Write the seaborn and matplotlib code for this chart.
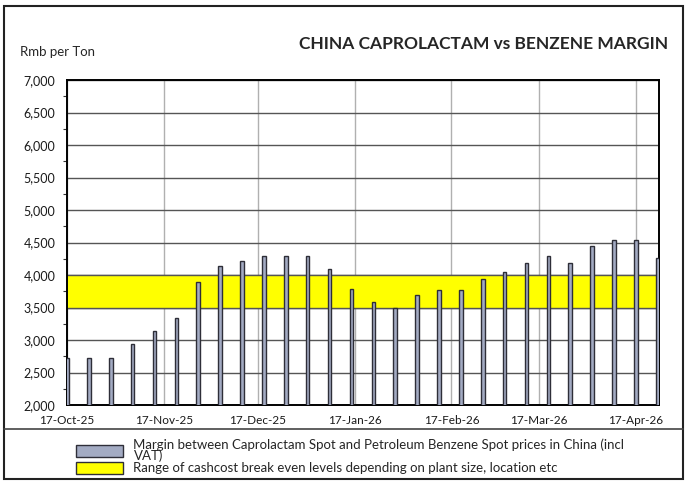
import pandas as pd
import numpy as np
import matplotlib
matplotlib.use("Agg")
import matplotlib.pyplot as plt
import matplotlib.dates as mdates
from matplotlib.patches import Rectangle, Patch
from matplotlib.lines import Line2D
import seaborn as sns

# weekly margin data (Rmb per ton)
week_start = "2025-10-17"
n_weeks = 28
margin = [2730, 2725, 2725, 2945, 3135, 3340, 3890, 4135, 4210, 4295,
          4295, 4295, 4090, 3790, 3590, 3490, 3685, 3770, 3770, 3935,
          4040, 4180, 4295, 4180, 4440, 4540, 4540, 4265]
breakeven_low = 3500
breakeven_high = 4000
tick_dates = ["2025-10-17", "2025-11-17", "2025-12-17", "2026-01-17",
              "2026-02-17", "2026-03-17", "2026-04-17"]

title = "CHINA CAPROLACTAM vs BENZENE MARGIN"
ylabel = "Rmb per Ton"
legend_bar = "Margin between Caprolactam Spot and Petroleum Benzene Spot prices in China (incl\nVAT)"
legend_band = "Range of cashcost break even levels depending on plant size, location etc"

dates = pd.date_range(week_start, periods=n_weeks, freq="7D")
df = pd.DataFrame({"date": mdates.date2num(dates), "margin": margin})

sns.set_style("white")
plt.rcParams["font.family"] = ["Lato", "DejaVu Sans"]

fig = plt.figure(figsize=(6.88, 4.84), dpi=100)
ax = fig.add_axes([0.0974, 0.1632, 0.8605, 0.6715])

bar_color = "#A3ABC3"
edge_color = "#2E2E38"

# yellow break-even band
ax.axhspan(breakeven_low, breakeven_high, color="#FFFF00", zorder=1, lw=0)

sns.barplot(data=df, x="date", y="margin", native_scale=True, width=1.15 / 7,
            color=bar_color, edgecolor=edge_color, linewidth=1.0,
            saturation=1, ax=ax, zorder=3)

ax.set_ylim(2000, 7000)
ax.set_xlim(df["date"].iloc[0], df["date"].iloc[-1] + 0.4)
ax.set_yticks(np.arange(2000, 7001, 500))
ax.set_yticklabels([f"{v:,}" for v in range(2000, 7001, 500)])
ax.yaxis.set_minor_locator(plt.MultipleLocator(250))
ax.set_xticks(mdates.date2num(pd.to_datetime(tick_dates)))
ax.xaxis.set_major_formatter(mdates.DateFormatter("%d-%b-%y"))

ax.grid(axis="y", color="#555555", lw=1.0, zorder=2)
ax.grid(axis="x", color="#B0B0B0", lw=1.0, zorder=2)
ax.set_axisbelow(True)
for h in (breakeven_low, breakeven_high):
    ax.axhline(h, color="#555555", lw=1.0, zorder=2)

ax.tick_params(axis="y", which="major", left=False, labelsize=9, pad=5,
               colors="#1a1a1a")
ax.tick_params(axis="y", which="minor", left=True, length=3, width=0.8,
               color="#333333")
ax.tick_params(axis="x", bottom=False, labelsize=8.5, pad=4, colors="#1a1a1a")
ax.set_xlabel("")
ax.set_ylabel("")
for s in ax.spines.values():
    s.set_color("black")
    s.set_linewidth(1.4)

fig.text(0.029, 0.892, ylabel, fontsize=9.5, ha="left", va="center")
fig.text(0.971, 0.91, title, fontsize=12.5, fontweight="bold",
         ha="right", va="center")

# outer frame and legend separator
fig.add_artist(Rectangle((0.006, 0.01), 0.987, 0.978, transform=fig.transFigure,
                         fill=False, ec="#222222", lw=1.5))
fig.add_artist(Line2D([0.006, 0.993], [0.113, 0.113], transform=fig.transFigure,
                      color="#444444", lw=1.2))

handles = [Patch(facecolor=bar_color, edgecolor=edge_color, lw=1.0),
           Patch(facecolor="#FFFF00", edgecolor=edge_color, lw=1.0)]
leg = fig.legend(handles, [legend_bar, legend_band], loc="upper left",
                 bbox_to_anchor=(0.101, 0.107), frameon=False, fontsize=9.5,
                 handlelength=3.55, handleheight=1.0, handletextpad=0.8,
                 labelspacing=0.0, borderpad=0)
for t in leg.get_texts():
    t.set_linespacing(0.8)

fig.savefig("out.png", dpi=100)
